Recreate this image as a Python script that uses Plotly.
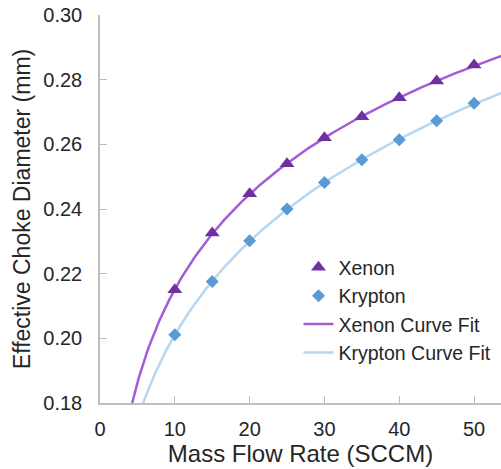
import numpy as np
import plotly.graph_objects as go

flow = [10, 15, 20, 25, 30, 35, 40, 45, 50]
xenon = [0.2150, 0.2326, 0.2447, 0.2540, 0.2620, 0.2685, 0.2744, 0.2796, 0.2845]
krypton = [0.2011, 0.2176, 0.2302, 0.2400, 0.2482, 0.2552, 0.2614, 0.2673, 0.2727]
y_ticks = [0.18, 0.20, 0.22, 0.24, 0.26, 0.28, 0.30]
x_ticks = [0, 10, 20, 30, 40, 50]


def curve_fit(x, y):
    """Least-squares fit of y = a + b * x**c (grid over c)."""
    x = np.asarray(x, float)
    y = np.asarray(y, float)
    best = None
    for c in np.linspace(-0.9, 0.9, 1801):
        if abs(c) < 1e-6:
            f = np.log(x)
        else:
            f = x ** c
        A = np.vstack([np.ones_like(f), f]).T
        coef, *_ = np.linalg.lstsq(A, y, rcond=None)
        err = np.sum((A @ coef - y) ** 2)
        if best is None or err < best[0]:
            best = (err, c, coef)
    _, c, coef = best

    def model(xx):
        xx = np.asarray(xx, float)
        f = np.log(xx) if abs(c) < 1e-6 else xx ** c
        return coef[0] + coef[1] * f
    return model


xfit = np.linspace(2.0, 56.0, 600)
xe_fit = curve_fit(flow, xenon)(xfit)
kr_fit = curve_fit(flow, krypton)(xfit)

font = "Arial"
fig = go.Figure()
fig.add_trace(go.Scatter(x=xfit, y=xe_fit, mode="lines", name="Xenon Curve Fit",
                         line=dict(color="#A45DD6", width=2.5), legendgroup="c", legendrank=3))
fig.add_trace(go.Scatter(x=xfit, y=kr_fit, mode="lines", name="Krypton Curve Fit",
                         line=dict(color="#B7D6F0", width=2.5), legendgroup="d", legendrank=4))
fig.add_trace(go.Scatter(x=flow, y=xenon, mode="markers", name="Xenon",
                         marker=dict(symbol="triangle-up", size=13, color="#7030A0"),
                         legendgroup="a", legendrank=1))
fig.add_trace(go.Scatter(x=flow, y=krypton, mode="markers", name="Krypton",
                         marker=dict(symbol="diamond", size=10, color="#5B9BD5"),
                         legendgroup="b", legendrank=2))

fig.update_layout(
    width=501, height=469,
    margin=dict(l=100, r=0, t=15, b=66),
    paper_bgcolor="white", plot_bgcolor="white",
    font=dict(family=font, size=20, color="#262626"),
    showlegend=True,
    legend=dict(x=0.495, y=0.399, xanchor="left", yanchor="top",
                traceorder="grouped", tracegroupgap=0,
                bgcolor="rgba(0,0,0,0)", font=dict(size=19.5),
                itemwidth=30),
)
fig.update_xaxes(range=[0, 53.6], tickvals=x_ticks, ticktext=[str(v) for v in x_ticks],
                 showgrid=False, zeroline=False, showline=True, linecolor="#BFBFBF",
                 linewidth=1.5, ticks="inside", ticklen=7, tickcolor="#BFBFBF",
                 ticklabelstandoff=7,
                 title=dict(text="Mass Flow Rate (SCCM)", font=dict(size=24), standoff=6))
fig.update_yaxes(range=[0.18, 0.30], tickvals=y_ticks, tickformat=".2f",
                 showgrid=False, zeroline=False, showline=True, linecolor="#BFBFBF",
                 linewidth=1.5, ticks="inside", ticklen=7, tickcolor="#BFBFBF",
                 ticklabelstandoff=12,
                 title=dict(text="Effective Choke Diameter (mm)", font=dict(size=23), standoff=6))
fig.write_html("out.html")
